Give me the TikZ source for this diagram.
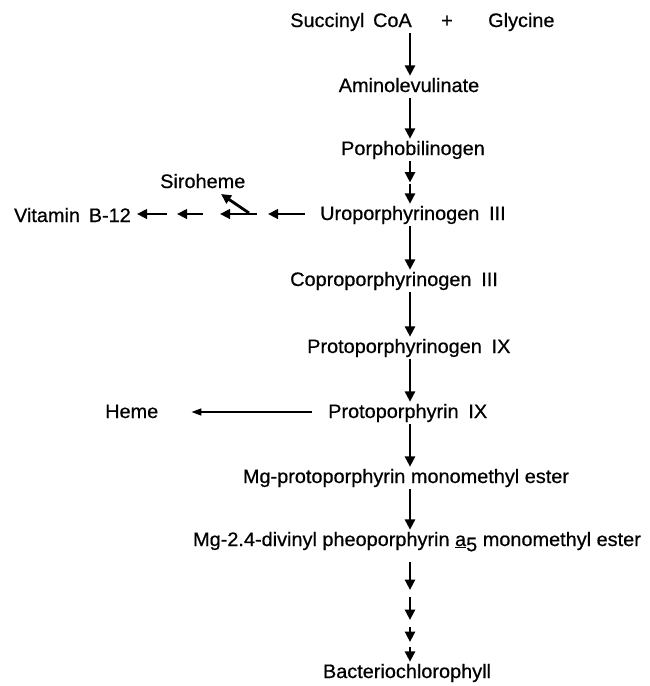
\documentclass[tikz,border=0pt]{standalone}
\usepackage{fontspec}
\setmainfont{Liberation Sans}[FakeStretch=1.02,FakeBold=0.6]
\usetikzlibrary{arrows.meta}
\begin{document}
\begin{tikzpicture}[x=1pt,y=-1pt,
  lbl/.style={inner sep=0pt, text height=14pt, text depth=2pt, font=\fontsize{19.5}{21}\selectfont},
  arr/.style={line width=2.8pt, -{Triangle[length=10.5pt,width=10pt]}, shorten <=4pt, shorten >=2pt},
  harr/.style={line width=2.8pt, -{Triangle[length=10pt,width=9.5pt]}},
  hemearr/.style={line width=1.6pt, -{Triangle[length=10pt,width=7pt]}}]
\useasboundingbox (0,0) rectangle (650,686);
\coordinate (ax) at (410,0);
% labels
\node[lbl, anchor=base east] (succ) at (412,27) {Succinyl\hspace{0.45em}CoA};
\node[lbl, anchor=base] (plus) at (447,27) {+};
\node[lbl, anchor=base west] (gly) at (488,27) {Glycine};
\node[lbl, anchor=base] (amino) at (409,92) {Aminolevulinate};
\node[lbl, anchor=base] (porpho) at (413,155) {Porphobilinogen};
\node[lbl, anchor=base west] (uro) at (320,220) {Uroporphyrinogen\hspace{0.5em}III};
\node[lbl, anchor=base west] (copro) at (290,286) {Coproporphyrinogen\hspace{0.5em}III};
\node[lbl, anchor=base west] (protogen) at (307,353) {Protoporphyrinogen\hspace{0.5em}IX};
\node[lbl, anchor=base west] (proto) at (328,418) {Protoporphyrin\hspace{0.5em}IX};
\node[lbl, anchor=base] (mg) at (406,483) {Mg-protoporphyrin monomethyl ester};
\node[lbl, anchor=base] (mgdv) at (417,546) {Mg-2.4-divinyl pheoporphyrin \underline{a}\raisebox{-0.5ex}{5} monomethyl ester};
\node[lbl, anchor=base] (bchl) at (407,678) {Bacteriochlorophyll};
\node[lbl, anchor=base west] (heme) at (105,418) {Heme};
\node[lbl, anchor=base east] (vitb) at (131,222) {Vitamin\hspace{0.45em}B-12};
\node[lbl, anchor=base west] (siro) at (160,188) {Siroheme};
% helper coordinates
\coordinate (pu) at (410,182.5);
\coordinate (h1) at (268,214);
\coordinate (h2s) at (257,214);
\coordinate (h2) at (220,214);
\coordinate (br) at (249,213);
\coordinate (sb) at (221,194);
\coordinate (h3s) at (203,214);
\coordinate (h3) at (177,214);
\coordinate (h4s) at (167,214);
\coordinate (m1) at (410,590);
\coordinate (m2) at (410,620);
\coordinate (m3) at (410,642);
% main column
\draw[arr] (succ.south -| ax) -- (amino.north -| ax);
\draw[arr] (amino.south -| ax) -- (porpho.north -| ax);
\draw[arr, shorten >=0pt] (porpho.south -| ax) -- (pu);
\draw[arr, shorten <=1pt] (pu) -- (uro.north -| ax);
\draw[arr] (uro.south -| ax) -- (copro.north -| ax);
\draw[arr] (copro.south -| ax) -- (protogen.north -| ax);
\draw[arr] (protogen.south -| ax) -- (proto.north -| ax);
\draw[arr] (proto.south -| ax) -- (mg.north -| ax);
\draw[arr] (mg.south -| ax) -- (mgdv.north -| ax);
\draw[arr, shorten <=14pt, shorten >=0pt] (mgdv.south -| ax) -- (m1);
\draw[arr, shorten <=7pt, shorten >=0pt] (m1) -- (m2);
\draw[arr, shorten <=7pt, shorten >=0pt] (m2) -- (m3);
\draw[arr, shorten <=5pt] (m3) -- (bchl.north -| ax);
% side branches
\draw[harr, shorten <=15pt] (uro.west) -- (h1);
\draw[harr] (h2s) -- (h2);
\draw[harr] (br) -- (sb);
\draw[harr] (h3s) -- (h3);
\draw[harr, shorten >=6pt] (h4s) -- (vitb.east |- h4s);
\draw[hemearr, shorten <=16pt, shorten >=33pt] (proto.west) -- (heme.east);
\end{tikzpicture}
\end{document}
